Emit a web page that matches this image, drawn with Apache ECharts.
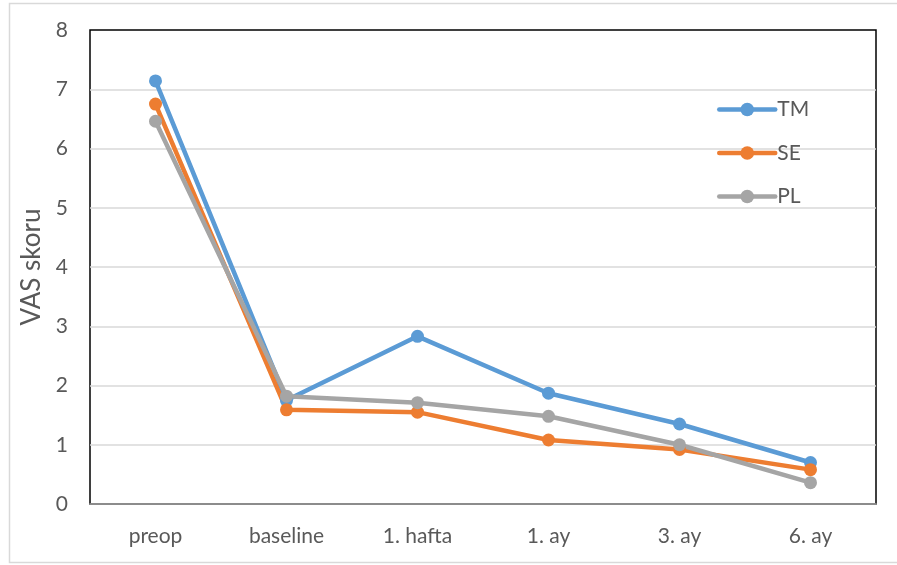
<!DOCTYPE html>
<html>
<head>
<meta charset="utf-8">
<script src="https://cdn.jsdelivr.net/npm/echarts@6/dist/echarts.min.js"></script>
<style>
  html, body { margin: 0; padding: 0; background: #fff; }
  #chart { width: 897px; height: 565px; }
</style>
</head>
<body>
<div id="chart"></div>
<script>
// Time points of follow-up
const categories = ['preop', 'baseline', '1. hafta', '1. ay', '3. ay', '6. ay'];

// Mean VAS scores per group
const tmValues = [7.14, 1.75, 2.83, 1.87, 1.35, 0.70];
const seValues = [6.75, 1.59, 1.55, 1.08, 0.92, 0.58];
const plValues = [6.46, 1.82, 1.71, 1.48, 1.00, 0.36];

const seriesNames = ['TM', 'SE', 'PL'];
const colors = ['#5B9BD5', '#ED7D31', '#A5A5A5'];

const font = 'Lato';
const textColor = '#595959';

function lineSeries(name, data, color) {
  return {
    name: name,
    type: 'line',
    data: data,
    symbol: 'circle',
    symbolSize: 13,
    lineStyle: { color: color, width: 4.5 },
    itemStyle: { color: color },
    emphasis: { disabled: true },
    animation: false
  };
}

const chart = echarts.init(document.getElementById('chart'), null, { renderer: 'canvas' });

chart.setOption({
  backgroundColor: '#fff',
  animation: false,
  graphic: [{
    type: 'rect',
    shape: { x: 9.5, y: 3.5, width: 900, height: 559 },
    style: { fill: 'none', stroke: '#d9d9d9', lineWidth: 1.5 },
    silent: true,
    z: -10
  }],
  grid: {
    left: 90, top: 30, right: 21, bottom: 61,
    show: true,
    borderColor: '#000',
    borderWidth: 1.5,
    backgroundColor: '#fff'
  },
  legend: {
    data: seriesNames,
    orient: 'vertical',
    left: 712,
    top: 94,
    itemWidth: 56,
    itemHeight: 17,
    itemGap: 22.5,
    lineStyle: { width: 4.5, cap: 'round' },
    textStyle: { fontFamily: font, fontSize: 21, color: textColor, padding: [0, 0, 0, -3] }
  },
  xAxis: {
    type: 'category',
    data: categories,
    boundaryGap: true,
    z: 10,
    axisLine: { show: true, lineStyle: { color: '#a6a6a6', width: 1.5 } },
    axisTick: { show: false },
    axisLabel: { fontFamily: font, fontSize: 21, color: textColor, margin: 22 }
  },
  yAxis: {
    type: 'value',
    min: 0,
    max: 8,
    interval: 1,
    name: 'VAS skoru',
    nameLocation: 'middle',
    nameGap: 44,
    nameTextStyle: { fontFamily: font, fontSize: 26, color: textColor },
    axisLine: { show: false },
    axisTick: { show: false },
    axisLabel: { fontFamily: font, fontSize: 21, color: textColor, margin: 22 },
    splitLine: { showMinLine: false, showMaxLine: false, lineStyle: { color: '#d9d9d9', width: 1.5 } }
  },
  series: [
    lineSeries(seriesNames[0], tmValues, colors[0]),
    lineSeries(seriesNames[1], seValues, colors[1]),
    lineSeries(seriesNames[2], plValues, colors[2])
  ]
});
</script>
</body>
</html>
